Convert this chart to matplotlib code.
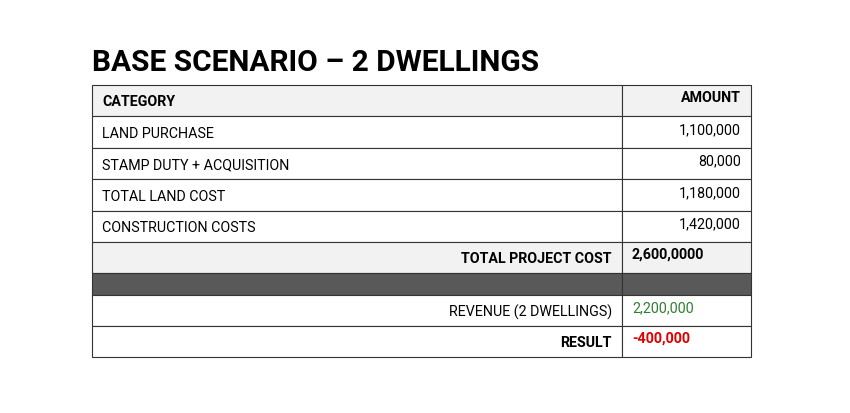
import matplotlib.pyplot as plt
import matplotlib.patches as patches
from matplotlib import font_manager

names = {f.name for f in font_manager.fontManager.ttflist}
narrow = 'Liberation Sans Narrow' if 'Liberation Sans Narrow' in names else 'Roboto'

title = 'BASE SCENARIO – 2 DWELLINGS'
categories = ['LAND PURCHASE', 'STAMP DUTY + ACQUISITION', 'TOTAL LAND COST', 'CONSTRUCTION COSTS']
amounts = ['1,100,000', '80,000', '1,180,000', '1,420,000']
total_label, total_value = 'TOTAL PROJECT COST', '2,600,0000'
revenue_label, revenue_value = 'REVENUE (2 DWELLINGS)', '2,200,000'
result_label, result_value = 'RESULT', '-400,000'

fig = plt.figure(figsize=(8.5, 4.14), dpi=100)
ax = fig.add_axes([0, 0, 1, 1])
ax.set_xlim(0, 850)
ax.set_ylim(414, 0)
ax.axis('off')

x0, xs, x1 = 92, 622, 751
edges = [86, 117, 149, 180, 212, 243, 274, 296, 327, 358]
fills = ['#f2f2f2', 'white', 'white', 'white', 'white', '#f2f2f2', '#595959', 'white', 'white']
for i, f in enumerate(fills):
    for a, b in [(x0, xs), (xs, x1)]:
        ax.add_patch(patches.Rectangle((a, edges[i]), b - a, edges[i+1] - edges[i],
                                       facecolor=f, edgecolor='#333333', lw=0.8))

ax.text(x0, 63, title, fontsize=21.5, fontweight='bold', family='Roboto', va='center', ha='left')
fs = 10.3
def txt(x, y, s, ha='left', bold=False, color='black'):
    ax.text(x, y, s, fontsize=fs, family=narrow, ha=ha, va='center',
            fontweight='bold' if bold else 'normal', color=color)

txt(102, 102, 'CATEGORY', bold=True)
txt(741, 98, 'AMOUNT', ha='right', bold=True)
for i, (c, v) in enumerate(zip(categories, amounts)):
    yc = (edges[i+1] + edges[i+2]) / 2
    txt(102, yc + 1, c)
    txt(741, yc - 3, v, ha='right')
txt(612, 259, total_label, ha='right', bold=True)
txt(632, 255, total_value, bold=True)
txt(612, 312, revenue_label, ha='right')
txt(632, 308, revenue_value, color='#2e7d32')
txt(612, 343, result_label, ha='right', bold=True)
txt(632, 339, result_value, bold=True, color='#e00000')

fig.savefig('out.png', dpi=100)
